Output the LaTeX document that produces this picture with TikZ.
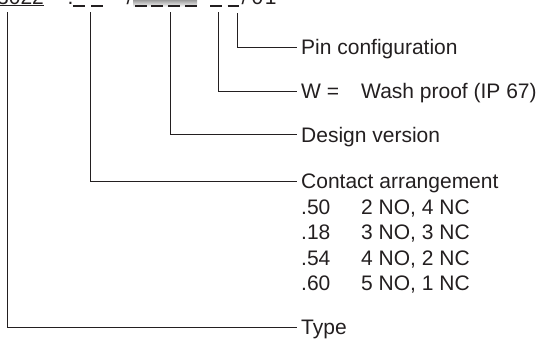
\documentclass[tikz,border=0pt]{standalone}
\usepackage{fontspec}
\setmainfont{Liberation Sans}
\definecolor{ink}{HTML}{231F20}
\definecolor{shade}{HTML}{D1D2D4}
\begin{document}
\begin{tikzpicture}[x=1pt,y=-1pt,
  txt/.style={inner sep=0pt, text=ink, font=\fontsize{21}{25}\selectfont},
  lbl/.style={txt, inner xsep=4pt, inner ysep=0pt, text height=15pt, text depth=0pt, anchor=west},
  conn/.style={draw=ink, line width=0.9pt},
  uscore/.style={draw=ink, line width=1.1pt}]
\useasboundingbox (0,0) rectangle (541,338);
% top code row
\fill[shade] (133,-2) rectangle (197,7);
\node[txt, anchor=base west] (num) at (-3,4) {3022};
\draw[uscore] (-3,5.6) -- (44,5.6);
\node[txt, anchor=base west] (dot) at (67.5,4) {.};
\draw[uscore] (73,6) -- (84.5,6);
\draw[uscore] (91,6) -- (102.5,6);
\node[txt, anchor=base west] (slash1) at (126.5,4) {/};
\foreach \a in {135,151,168,185}{\draw[uscore] (\a,6) -- (\a+11.5,6);}
\draw[uscore] (210,6) -- (221.5,6);
\draw[uscore] (227.5,6) -- (239,6);
\node[txt, anchor=base west] (slash2) at (241.5,4) {/};
\node[txt, anchor=base west] (pinno) at (251.5,4) {0\kern1.5pt 1};
% top ends of connectors
\coordinate (ttype) at (7.5,12);
\coordinate (tcontact) at (90.5,12);
\coordinate (tdesign) at (170.5,12);
\coordinate (tw) at (218,12);
\coordinate (tpin) at (237,13);
% labels
\node[lbl] (pin) at (297,47) {Pin configuration};
\node[lbl] (w) at (297,91) {W =};
\node[txt, anchor=base west] (wash) at (361,98.5) {Wash proof (IP 67)};
\node[lbl] (design) at (297,134.5) {Design version};
\node[lbl] (contact) at (297,181) {Contact arrangement};
\node[txt, anchor=base west] (c1) at (301,214) {.50};
\node[txt, anchor=base west] (d1) at (361,214) {2 NO, 4 NC};
\node[txt, anchor=base west] (c2) at (301,239.5) {.18};
\node[txt, anchor=base west] (d2) at (361,239.5) {3 NO, 3 NC};
\node[txt, anchor=base west] (c3) at (301,265) {.54};
\node[txt, anchor=base west] (d3) at (361,265) {4 NO, 2 NC};
\node[txt, anchor=base west] (c4) at (301,290.5) {.60};
\node[txt, anchor=base west] (d4) at (361,290.5) {5 NO, 1 NC};
\node[lbl] (type) at (297,327) {Type};
% connectors
\draw[conn] (tpin) |- (pin.west);
\draw[conn] (tw) |- (w.west);
\draw[conn] (tdesign) |- (design.west);
\draw[conn] (tcontact) |- (contact.west);
\draw[conn] (ttype) |- (type.west);
\end{tikzpicture}
\end{document}
